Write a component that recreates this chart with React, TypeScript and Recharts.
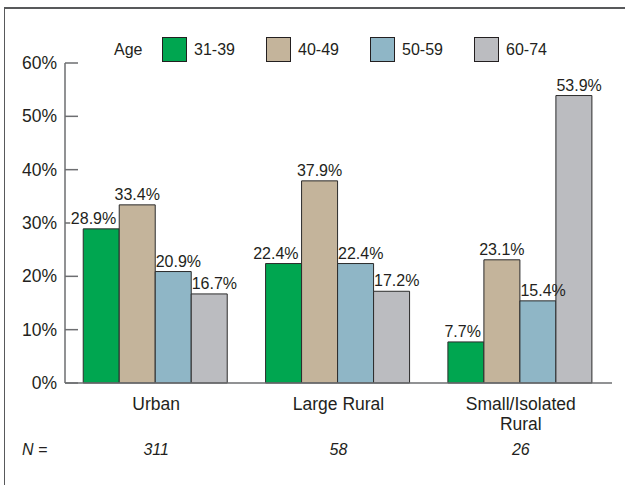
import React from "react";
import { BarChart, Bar, XAxis, YAxis, LabelList } from "recharts";

const categories = ["Urban", "Large Rural", "Small/Isolated Rural"];
const age31_39 = [28.9, 22.4, 7.7];
const age40_49 = [33.4, 37.9, 23.1];
const age50_59 = [20.9, 22.4, 15.4];
const age60_74 = [16.7, 17.2, 53.9];
const sampleSizes = [311, 58, 26];
const yTicks = [0, 10, 20, 30, 40, 50, 60];

const seriesNames = ["31-39", "40-49", "50-59", "60-74"];
const seriesKeys = ["a", "b", "c", "d"];
const seriesColors = ["#00a650", "#c4b49b", "#8fb6c6", "#bbbcc0"];

const data = categories.map((name, i) => ({
  name,
  n: sampleSizes[i],
  a: age31_39[i],
  b: age40_49[i],
  c: age50_59[i],
  d: age60_74[i],
}));

const W = 625;
const H = 485;
const MARGIN = { top: 63, right: 13, bottom: 22, left: 0 };
const Y_AXIS_W = 65;
const X_AXIS_H = 80;
const AXIS_X = MARGIN.left + Y_AXIS_W;
const PLOT_BOTTOM = H - MARGIN.bottom - X_AXIS_H;
const FONT = '"Liberation Sans", Arial, Helvetica, sans-serif';
const TEXT = "#231f20";
const AXIS = "#6d6e71";

const YTick = (props: any) => {
  const { y, payload } = props;
  return (
    <g>
      <line x1={AXIS_X} x2={AXIS_X + 13} y1={y} y2={y} stroke={AXIS} strokeWidth={1.5} />
      <text x={AXIS_X - 8} y={y} textAnchor="end" dominantBaseline="central" fontSize={17.5} fill={TEXT} fontFamily={FONT}>
        {payload.value}%
      </text>
    </g>
  );
};

function wrap(label: string, max: number): string[] {
  const words = label.split(" ");
  const lines: string[] = [];
  let cur = "";
  for (const w of words) {
    const t = cur ? cur + " " + w : w;
    if (t.length > max && cur) {
      lines.push(cur);
      cur = w;
    } else cur = t;
  }
  if (cur) lines.push(cur);
  return lines;
}

const XTick = (props: any) => {
  const { x, payload, index } = props;
  const lines = wrap(String(payload.value), 14);
  const n = sampleSizes[index];
  return (
    <g fontFamily={FONT} fill={TEXT}>
      {lines.map((l, i) => (
        <text key={i} x={x} y={PLOT_BOTTOM + 27 + i * 20} textAnchor="middle" fontSize={17.5} fill={TEXT}>
          {l}
        </text>
      ))}
      <text x={x} y={PLOT_BOTTOM + 72} textAnchor="middle" fontSize={16} fontStyle="italic" fill={TEXT}>
        {n}
      </text>
      {index === 0 && (
        <text x={22} y={PLOT_BOTTOM + 72} textAnchor="start" fontSize={16} fontStyle="italic" fill={TEXT}>
          N =
        </text>
      )}
    </g>
  );
};

const makeLabel = (mode: "end" | "middle" | "start") => (props: any) => {
  const { x, y, width, value } = props;
  const txt = `${value}%`;
  let tx = x + width / 2;
  if (mode === "end") tx = x + width - 3;
  if (mode === "start") tx = x + 0.5;
  const ty = y - 5;
  const approxW = txt.length * 9;
  const rx = mode === "end" ? tx - approxW : mode === "start" ? tx : tx - approxW / 2;
  return (
    <g>
      {mode === "end" && <rect x={rx - 1} y={ty - 13} width={approxW + 1} height={15} fill="#fff" />}
      <text x={tx} y={ty} textAnchor={mode} fontSize={16} fill={TEXT} fontFamily={FONT}>
        {txt}
      </text>
    </g>
  );
};

const labelModes: ("end" | "middle" | "start")[] = ["end", "middle", "start", "start"];

const Legend = () => (
  <div style={{ position: "absolute", left: 0, top: 0, width: W, height: 70, fontFamily: FONT, color: TEXT }}>
    <div style={{ position: "absolute", left: 114, top: 40, fontSize: 16, lineHeight: "20px" }}>Age</div>
    {seriesNames.map((nm, i) => (
      <div key={nm}>
        <div
          style={{
            position: "absolute",
            left: 162 + i * 104,
            top: 37,
            width: 23,
            height: 23,
            background: seriesColors[i],
            border: "1.5px solid #231f20",
          }}
        />
        <div style={{ position: "absolute", left: 194 + i * 104, top: 40, fontSize: 16, lineHeight: "20px" }}>{nm}</div>
      </div>
    ))}
  </div>
);

export default function App() {
  return (
    <div style={{ position: "absolute", left: 0, top: 0, width: W, height: H, background: "#fff", overflow: "hidden" }}>
      <div
        style={{
          position: "absolute",
          left: 4,
          top: 7,
          width: W,
          height: H,
          borderTop: "2px solid #58595b",
          borderLeft: "1.5px solid #58595b",
        }}
      />
      <Legend />
      <div style={{ position: "absolute", left: 0, top: 0 }}>
        <BarChart width={W} height={H} data={data} margin={MARGIN} barCategoryGap="10%" barGap={0}>
          <XAxis
            dataKey="name"
            height={X_AXIS_H}
            axisLine={{ stroke: AXIS, strokeWidth: 1.5 }}
            tickLine={false}
            tick={<XTick />}
            interval={0}
          />
          <YAxis
            width={Y_AXIS_W}
            domain={[0, 60]}
            ticks={yTicks}
            axisLine={{ stroke: AXIS, strokeWidth: 1.5 }}
            tickLine={false}
            tick={<YTick />}
            interval={0}
          />
          {seriesKeys.map((k, i) => (
            <Bar key={k} dataKey={k} name={seriesNames[i]} fill={seriesColors[i]} stroke="#2b2b2b" strokeWidth={1} isAnimationActive={false}>
              <LabelList dataKey={k} content={makeLabel(labelModes[i])} />
            </Bar>
          ))}
        </BarChart>
      </div>
    </div>
  );
}
